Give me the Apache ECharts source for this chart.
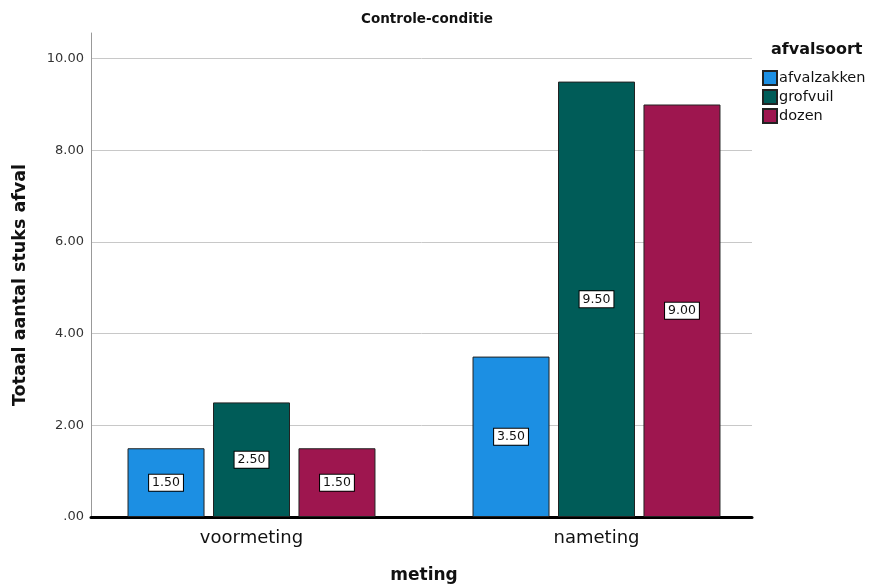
<!DOCTYPE html>
<html><head><meta charset="utf-8">
<script src="https://cdn.jsdelivr.net/npm/echarts@6/dist/echarts.min.js"></script>
<style>html,body{margin:0;padding:0;background:#fff}#c{width:874px;height:586px}</style>
</head><body><div id="c"></div>
<script>
const categories = ["voormeting", "nameting"];
const afvalzakken = [1.5, 3.5];
const grofvuil = [2.5, 9.5];
const dozen = [1.5, 9.0];
const seriesNames = ["afvalzakken", "grofvuil", "dozen"];
const colors = ["#1c8fe3", "#005c58", "#9e164f"];
const font = "DejaVu Sans";
const chart = echarts.init(document.getElementById('c'));
const label = {
  show: true, position: 'inside', formatter: p => p.value.toFixed(2),
  backgroundColor: '#fff', borderColor: '#000', borderWidth: 1,
  padding: [2, 3, 1, 3], color: '#111', fontSize: 12.5, fontFamily: font
};
const vals = [afvalzakken, grofvuil, dozen];
chart.setOption({
  animation: false,
  title: [
    {text: 'Controle-conditie', left: 422, top: 7, textAlign: 'center',
     textStyle: {fontFamily: font, fontSize: 13.5, fontWeight: 'bold', color: '#111'}},
    {text: 'afvalsoort', left: 766, top: 37,
     textStyle: {fontFamily: font, fontSize: 16, fontWeight: 'bold', color: '#111'}}
  ],
  legend: {
    orient: 'vertical', left: 762, top: 70, padding: 0, itemWidth: 14, itemHeight: 14, itemGap: 3,
    icon: 'rect', data: seriesNames,
    textStyle: {fontFamily: font, fontSize: 14.5, color: '#111', padding: [0, 0, 0, -3]}
  },
  graphic: [{
    type: 'text', x: 20, y: 285, rotation: Math.PI / 2,
    style: {text: 'Totaal aantal stuks afval', font: 'bold 17.5px "DejaVu Sans"', fill: '#111',
      textAlign: 'center', textVerticalAlign: 'middle'}
  }],
  grid: [
    {left: 91, right: 122, top: 33, bottom: 69, outerBoundsMode: 'none', containLabel: false},
    {left: 79, right: 105, top: 33, bottom: 69, outerBoundsMode: 'none', containLabel: false}
  ],
  xAxis: [{
    gridIndex: 0, type: 'category', data: categories,
    axisLine: {lineStyle: {color: '#000', width: 3}},
    axisTick: {show: false}, axisLabel: {show: false}, splitLine: {show: false}
  }, {
    gridIndex: 1, type: 'category', data: categories,
    name: 'meting', nameLocation: 'middle', nameGap: 50,
    nameTextStyle: {fontFamily: font, fontSize: 17, fontWeight: 'bold', color: '#111'},
    axisLine: {show: false}, axisTick: {show: false},
    axisLabel: {fontFamily: font, fontSize: 18, color: '#111', margin: 12}
  }],
  yAxis: [{
    gridIndex: 0, type: 'value', min: 0, max: 10.56, interval: 2,
    axisLine: {show: true, lineStyle: {color: '#999', width: 1}},
    axisTick: {show: false},
    splitLine: {show: true, showMaxLine: false, lineStyle: {color: '#c8c8c8', width: 1}},
    axisLabel: {fontFamily: font, fontSize: 13, color: '#333', margin: 7,
      formatter: v => (v % 2 !== 0) ? '' : (v === 0 ? '.00' : v.toFixed(2))}
  }, {
    gridIndex: 1, type: 'value', min: 0, max: 10.56, interval: 2, show: false
  }],
  series: seriesNames.map((n, i) => ({
    name: n, type: 'bar', xAxisIndex: 1, yAxisIndex: 1, data: vals[i], barWidth: 77, barGap: '11%',
    itemStyle: {color: colors[i], borderColor: '#222', borderWidth: 1},
    label: label
  }))
});
</script></body></html>
